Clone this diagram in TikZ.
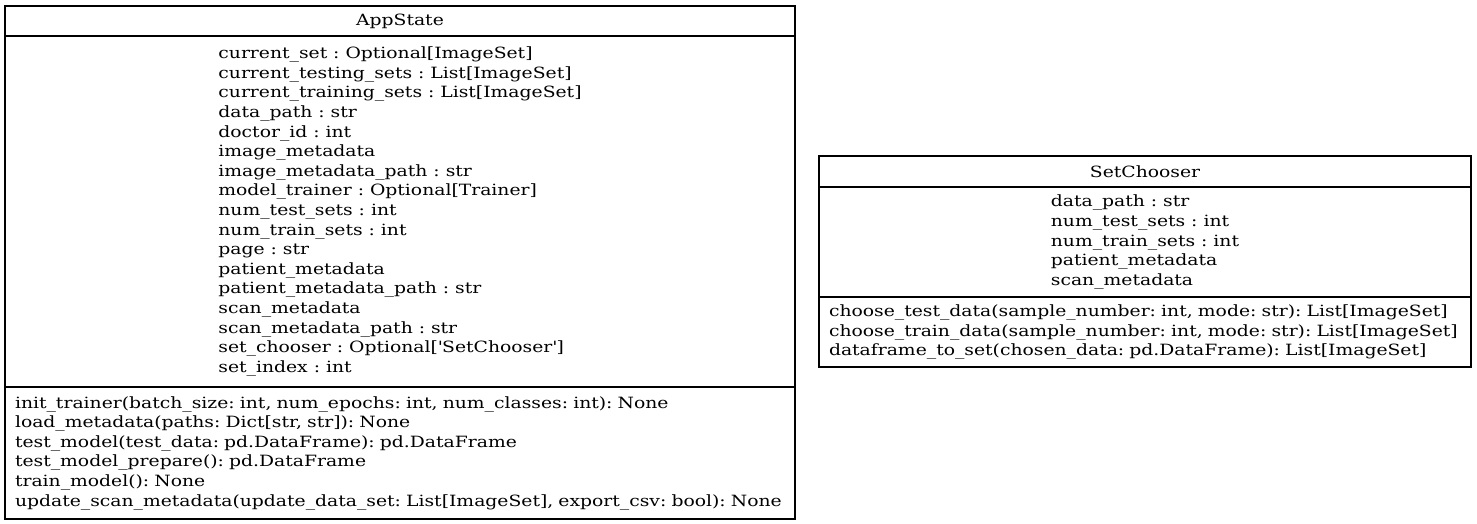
\documentclass[tikz,border=0pt]{standalone}
\usepackage{fontspec}
\setmainfont[FakeStretch=1.21]{DejaVu Serif}
\usepackage{tikz}
\usetikzlibrary{positioning}

\begin{document}
\frenchspacing
\begin{tikzpicture}[
        x=1pt, y=-1pt,
        font=\fontsize{15.5}{19.6}\selectfont,
        part/.style={draw, line width=1.2pt, inner sep=0pt, outer sep=0pt},
        classhead/.style={part, minimum height=30pt, anchor=north west},
        classattr/.style={part, align=left, below=0pt of #1},
        classops/.style={part, align=left, inner xsep=10pt, below=0pt of #1}
    ]
    \useasboundingbox (0,0) rectangle (1477,524);
    % AppState class
    \node[classhead, minimum width=790pt] (appstate) at (5,6) {AppState};
    \node[classattr=appstate, minimum width=790pt, minimum height=351pt] (appstateattr) {%
        current\_set : Optional[ImageSet]\\
        current\_testing\_sets : List[ImageSet]\\
        current\_training\_sets : List[ImageSet]\\
        data\_path : str\\
        doctor\_id : int\\
        image\_metadata\\
        image\_metadata\_path : str\\
        model\_trainer : Optional[Trainer]\\
        num\_test\_sets : int\\
        num\_train\_sets : int\\
        page : str\\
        patient\_metadata\\
        patient\_metadata\_path : str\\
        scan\_metadata\\
        scan\_metadata\_path : str\\
        set\_chooser : Optional[\textquotesingle SetChooser\textquotesingle]\\
        set\_index : int};
    \node[classops=appstateattr, text width=770pt, minimum height=132pt] (appstateops) {%
        init\_trainer(batch\_size: int, num\_epochs: int, num\_classes: int): None\\
        load\_metadata(paths: Dict[str, str]): None\\
        test\_model(test\_data: pd.DataFrame): pd.DataFrame\\
        test\_model\_prepare(): pd.DataFrame\\
        train\_model(): None\\
        update\_scan\_metadata(update\_data\_set: List[ImageSet], export\_csv: bool): None};
    % SetChooser class
    \node[classhead, minimum width=652pt, minimum height=31pt] (setchooser) at (819,156) {SetChooser};
    \node[classattr=setchooser, minimum width=652pt, minimum height=110pt] (setchooserattr) {%
        data\_path : str\\
        num\_test\_sets : int\\
        num\_train\_sets : int\\
        patient\_metadata\\
        scan\_metadata};
    \node[classops=setchooserattr, text width=632pt, minimum height=70pt] (setchooserops) {%
        choose\_test\_data(sample\_number: int, mode: str): List[ImageSet]\\
        choose\_train\_data(sample\_number: int, mode: str): List[ImageSet]\\
        dataframe\_to\_set(chosen\_data: pd.DataFrame): List[ImageSet]};
\end{tikzpicture}
\end{document}
